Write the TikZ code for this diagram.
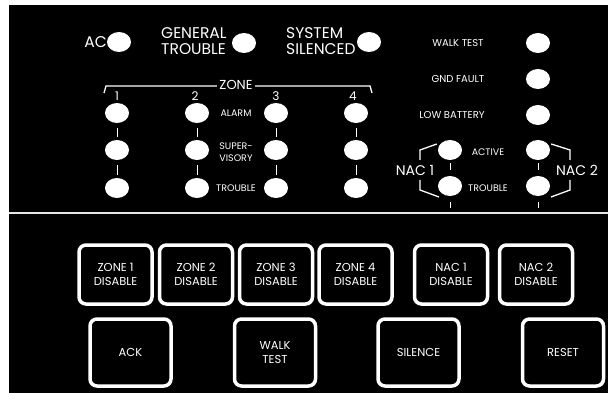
\documentclass[tikz,border=0pt]{standalone}
\usepackage{fontspec}
\setmainfont{Poppins}
\usetikzlibrary{shapes.geometric}
\begin{document}
\begin{tikzpicture}[x=1pt,y=-1pt,
  led/.style={ellipse,fill=white,draw=none,minimum width=24pt,minimum height=20pt,inner sep=0pt},
  lbl/.style={text=white,inner sep=0pt,font=\fontsize{#1}{#1}\selectfont},
  lbl/.default=10,
  btn/.style={draw=white,line width=3.5pt,rounded corners=7pt,text=white,align=center,
    inner sep=0pt,font=\fontsize{11.5}{14}\selectfont},
  zbtn/.style={btn,minimum width=73pt,minimum height=59pt},
  cbtn/.style={btn,minimum width=81pt,minimum height=67pt},
  tick/.style={draw=white,line width=0.9pt},
  brk/.style={draw=white,line width=1.3pt}]
\useasboundingbox (0,0) rectangle (608,393);
\fill[white] (0,0) rectangle (608,393);
\fill[black] (9,5) rectangle (608,393);
\draw[white!80!gray,line width=2.2pt] (9,213) -- (608,213);

% top status LEDs
\node[led] (ac) at (119,42) {};
\node[lbl=15.5,anchor=east] (tac) at (107,42) {AC};
\node[led] (gt) at (244,43) {};
\node[lbl=15.5,anchor=west,align=left,font=\fontsize{15.5}{16.5}\selectfont] (tgt) at (161,41) {GENERAL\\TROUBLE};
\node[led] (ss) at (369,42) {};
\node[lbl=15.5,anchor=west,align=left,font=\fontsize{15.5}{16.5}\selectfont] (tss) at (286,41) {SYSTEM\\SILENCED};

% zone bracket
\coordinate (zl) at (104,93);
\coordinate (zr) at (372,93);
\draw[brk] (zl) -- ++(2,-7) -- ++(264,0) -- (zr);
\node[lbl=13,fill=black,inner xsep=2pt] (zone) at (236,85) {ZONE};
\foreach \n/\x in {1/117,2/195,3/276,4/353}{
  \node[lbl=12] (zn\n) at (\x,96) {\n};
}
% zone LEDs
\foreach \c/\x in {1/117,2/197,3/276,4/356}{
  \node[led] (za\c) at (\x,113) {};
  \node[led] (zs\c) at (\x,150) {};
  \node[led] (zt\c) at (\x,188) {};
  \draw[tick] ([yshift=-5pt]za\c.south) -- ([yshift=3pt]zs\c.north);
  \draw[tick] ([yshift=-5pt]zs\c.south) -- ([yshift=3pt]zt\c.north);
}
\node[lbl=9.5] (talarm) at (236,113) {ALARM};
\node[lbl=9.5,align=center,font=\fontsize{9.5}{12.5}\selectfont] (tsup) at (236,152) {SUPER-\\VISORY};
\node[lbl=9.5] (ttrb) at (236,188) {TROUBLE};

% right column
\node[led] (wt) at (538,43) {};
\node[lbl] (twt) at (458,43) {WALK TEST};
\node[led] (gf) at (538,79) {};
\node[lbl] (tgf) at (458,79) {GND FAULT};
\node[led] (lb) at (538,115) {};
\node[lbl] (tlb) at (452,115) {LOW BATTERY};

% NAC LEDs
\node[led] (n1a) at (450,150) {};
\node[led] (n1t) at (450,186) {};
\node[led] (n2a) at (538,150) {};
\node[led] (n2t) at (538,186) {};
\node[lbl=9.5] (tact) at (488,152) {ACTIVE};
\node[lbl=9.5] (tntr) at (488,188) {TROUBLE};
\node[lbl=14] (tn1) at (415,170) {NAC 1};
\node[lbl=14] (tn2) at (577,170) {NAC 2};
\foreach \n in {n1,n2}{
  \draw[tick] ([yshift=-3pt]\n a.south) -- ([yshift=6pt]\n t.north);
  \draw[tick] ([yshift=-6pt]\n t.south) -- ++(0,6);
}
\draw[brk] ([xshift=-1pt]n1a.west) ++(0,-6) -- (420,150) -- (420,160);
\draw[brk] (420,180) -- (420,190) -- (439,197);
\draw[brk] ([xshift=1pt]n2a.east) ++(0,-6) -- (570,150) -- (570,160);
\draw[brk] (570,180) -- (570,190) -- (551,197);

% disable buttons
\node[zbtn] (bz1) at (115.5,274.5) {ZONE 1\\DISABLE};
\node[zbtn] (bz2) at (196,274.5) {ZONE 2\\DISABLE};
\node[zbtn] (bz3) at (276,274.5) {ZONE 3\\DISABLE};
\node[zbtn] (bz4) at (355.5,274.5) {ZONE 4\\DISABLE};
\node[zbtn] (bn1) at (451,274.5) {NAC 1\\DISABLE};
\node[zbtn] (bn2) at (536,274.5) {NAC 2\\DISABLE};
% control buttons
\node[cbtn] (back) at (130.5,352.5) {ACK};
\node[cbtn] (bwt) at (275,352.5) {WALK\\TEST};
\node[cbtn] (bsil) at (418.5,352.5) {SILENCE};
\node[cbtn] (brst) at (563,352.5) {RESET};
\end{tikzpicture}
\end{document}
